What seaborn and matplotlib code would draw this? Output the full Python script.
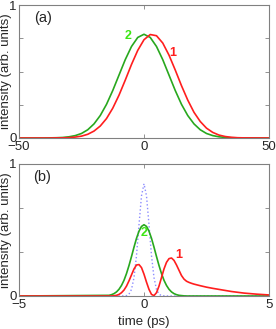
import numpy as np
import pandas as pd
import seaborn as sns
import matplotlib.pyplot as plt

# panel (a): long pulses, time axis in ps
time_a = [-50, -40, -37.5, -35, -32.5, -30, -27.5, -25, -22.5, -20, -17.5, -15,
          -12.5, -10, -7.5, -5, -2.5, 0, 2.5, 5, 7.5, 10, 12.5, 15, 17.5, 20,
          22.5, 25, 27.5, 30, 32.5, 35, 37.5, 40, 50]
green_a = [0, 0, 0.001, 0.002, 0.004, 0.009, 0.018, 0.034, 0.062, 0.106, 0.169, 0.253,
           0.357, 0.473, 0.589, 0.688, 0.756, 0.780, 0.756, 0.688, 0.589, 0.473, 0.357, 0.253,
           0.169, 0.106, 0.062, 0.034, 0.018, 0.009, 0.004, 0.002, 0.001, 0, 0]
red_a = [0, 0, 0, 0.001, 0.001, 0.003, 0.007, 0.014, 0.028, 0.052, 0.090, 0.146,
         0.224, 0.322, 0.435, 0.553, 0.659, 0.739, 0.778, 0.769, 0.714, 0.623, 0.511, 0.393,
         0.285, 0.193, 0.124, 0.074, 0.042, 0.022, 0.011, 0.005, 0.002, 0.001, 0]

# panel (b): short pulses
time_b = [-5.0, -1.4, -1.3, -1.2, -1.1, -1.0, -0.9, -0.8, -0.7, -0.6, -0.5, -0.4,
          -0.3, -0.2, -0.1, 0.0, 0.1, 0.2, 0.3, 0.4, 0.5, 0.6, 0.7, 0.8,
          0.9, 1.0, 1.1, 1.2, 1.3, 1.4, 1.5, 1.6, 1.7, 1.8, 1.9, 2.0,
          2.25, 2.5, 2.75, 3.0, 3.5, 4.0, 4.5, 5.0]
blue_b = [0, 0, 0, 0, 0, 0, 0, 0.001, 0.003, 0.014, 0.050, 0.139,
          0.306, 0.540, 0.759, 0.850, 0.759, 0.540, 0.306, 0.139, 0.050, 0.014, 0.003, 0.001,
          0, 0, 0, 0, 0, 0, 0, 0, 0, 0, 0, 0,
          0, 0, 0, 0, 0, 0, 0, 0]
green_b = [0, 0.005, 0.010, 0.018, 0.031, 0.051, 0.080, 0.119, 0.170, 0.231, 0.299, 0.370,
           0.437, 0.491, 0.527, 0.540, 0.527, 0.491, 0.437, 0.370, 0.299, 0.231, 0.170, 0.119,
           0.080, 0.051, 0.031, 0.018, 0.010, 0.005, 0.003, 0.001, 0, 0, 0, 0,
           0, 0, 0, 0, 0, 0, 0, 0]
red_b = [0, 0, 0, 0.002, 0.005, 0.012, 0.025, 0.045, 0.075, 0.115, 0.160, 0.205,
         0.235, 0.238, 0.215, 0.165, 0.105, 0.050, 0.012, 0.003, 0.025, 0.075, 0.140, 0.205,
         0.255, 0.283, 0.288, 0.270, 0.235, 0.195, 0.155, 0.128, 0.112, 0.103, 0.096, 0.090,
         0.078, 0.067, 0.058, 0.050, 0.034, 0.022, 0.014, 0.008]

RED = "#ff1e1e"
GREEN = "#28a81e"
LABEL_GREEN = "#3ce614"
BLUE = "#8c8cff"

sns.set_style("ticks")
plt.rcParams['font.family'] = ['Liberation Sans', 'DejaVu Sans']
plt.rcParams['font.size'] = 9.5

fig = plt.figure(figsize=(2.76, 3.29), dpi=100)
ax_a = fig.add_axes([19/276, 1 - 138/329, 250/276, 133/329])
ax_b = fig.add_axes([19/276, 1 - 296/329, 250/276, 132/329])

df_a = pd.DataFrame({"t": time_a, "green": green_a, "red": red_a})
df_b = pd.DataFrame({"t": time_b, "blue": blue_b, "green": green_b, "red": red_b})

sns.lineplot(data=df_a, x="t", y="green", ax=ax_a, color=GREEN, lw=1.2)
sns.lineplot(data=df_a, x="t", y="red", ax=ax_a, color=RED, lw=1.2)

sns.lineplot(data=df_b, x="t", y="blue", ax=ax_b, color=BLUE, lw=1.0, linestyle=":")
sns.lineplot(data=df_b, x="t", y="green", ax=ax_b, color=GREEN, lw=1.2)
sns.lineplot(data=df_b, x="t", y="red", ax=ax_b, color=RED, lw=1.2)

for ax, lim, xt, yt in [(ax_a, 50, [-50, 0, 50], [0, 0.25, 0.5, 0.75, 1]),
                        (ax_b, 5, [-5, 0, 5], [0, 1/3, 2/3, 1])]:
    ax.set_xlim(-lim, lim)
    ax.set_ylim(0, 1)
    ax.set_xticks(xt)
    ax.set_xticklabels([f"\u2212{lim}" if v < 0 else str(v) for v in xt])
    ax.set_yticks(yt)
    ax.set_yticklabels(["0"] + [""] * (len(yt) - 2) + ["1"])
    ax.tick_params(direction="in", length=3, width=0.6, color="#808080",
                   top=True, right=True, labelsize=9.5)
    ax.tick_params(axis="x", pad=2)
    ax.tick_params(axis="y", pad=1.5)
    for s in ax.spines.values():
        s.set_visible(True)
        s.set_color("#808080")
        s.set_linewidth(0.8)
    ax.set_ylabel("intensity (arb. units)", fontsize=9.5, labelpad=-2)
    ax.set_xlabel("")

ax_b.set_xlabel("time (ps)", fontsize=9.5, labelpad=3.5)

ax_a.text(0.06, 0.87, "(a)", transform=ax_a.transAxes, fontsize=10.5)
ax_b.text(0.055, 0.87, "(b)", transform=ax_b.transAxes, fontsize=10.5)

ax_a.text(-6.5, 0.77, "2", color=LABEL_GREEN, fontsize=9, fontweight="bold", ha="center", va="center")
ax_a.text(11.5, 0.64, "1", color=RED, fontsize=9, fontweight="bold", ha="center", va="center")
ax_b.text(0.0, 0.48, "2", color=LABEL_GREEN, fontsize=9, fontweight="bold", ha="center", va="center")
ax_b.text(1.4, 0.31, "1", color=RED, fontsize=9, fontweight="bold", ha="center", va="center")

fig.savefig("out.png", dpi=100)
